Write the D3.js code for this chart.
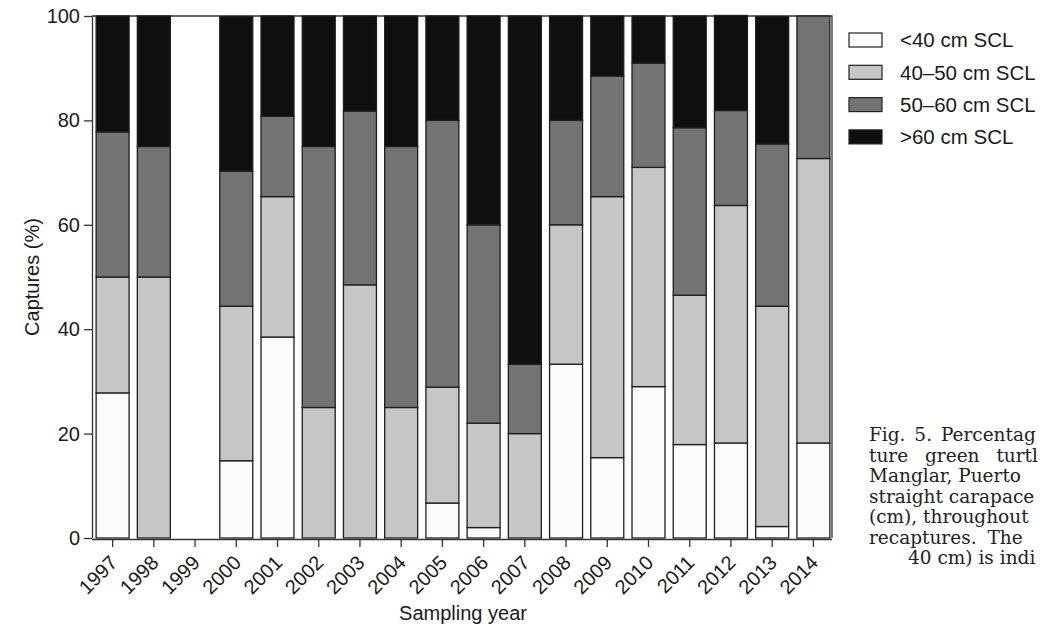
<!DOCTYPE html>
<html>
<head>
<meta charset="utf-8">
<script src="https://cdn.jsdelivr.net/npm/d3@7"></script>
<style>
  body { margin: 0; background: #fff; }
  svg { display: block; }
</style>
</head>
<body>
<script>
// chart data (percent of captures per size class)
var years = ["1997", "1998", "1999", "2000", "2001", "2002", "2003", "2004", "2005",
             "2006", "2007", "2008", "2009", "2010", "2011", "2012", "2013", "2014"];
var lt40  = [27.8, 0, 0, 14.8, 38.5, 0, 0, 0, 6.7, 2.0, 0, 33.3, 15.4, 29.0, 17.9, 18.2, 2.2, 18.2];
var s4050 = [22.2, 50, 0, 29.6, 26.9, 25, 48.5, 25, 22.2, 20.0, 20, 26.7, 50.0, 42.0, 28.6, 45.5, 42.2, 54.5];
var s5060 = [27.8, 25, 0, 25.9, 15.4, 50, 33.3, 50, 51.1, 38.0, 13.3, 20, 23.1, 20.0, 32.1, 18.2, 31.1, 27.3];
var gt60  = [22.2, 25, 0, 29.6, 19.2, 25, 18.2, 25, 20.0, 40.0, 66.7, 20, 11.5, 9.0, 21.4, 18.2, 24.4, 0];
var seriesNames = ["<40 cm SCL", "40\u201350 cm SCL", "50\u201360 cm SCL", ">60 cm SCL"];
var yTicks = [0, 20, 40, 60, 80, 100];
// caption is cut by the right edge of the figure, keep only what shows
var captionLines = ["Fig. 5. Percentag", "ture green turtl", "Manglar, Puerto",
                    "straight carapace", "(cm), throughout", "recaptures. The", "40 cm) is indi"];

window.onload = drawChart();

function drawChart(){
    var width = 1042, height = 641;
    var fills = ["#fbfbfb", "#c6c6c6", "#737373", "#0f0f0f"];
    var font = "'Liberation Sans', Arial, Helvetica, sans-serif";

    var svg = d3.select("body").append("svg")
        .attr("width", width)
        .attr("height", height)
        .style("font-family", font);

    var x = d3.scaleBand()
        .domain(years)
        .range([92, 834])
        .paddingInner(0.2)
        .paddingOuter(0.1);

    var y = d3.scaleLinear()
        .domain([0, 100])
        .range([538, 16]);

    //build rows for the stack
    var rows = years.map(function(yr, i){
        return { year: yr, a: lt40[i], b: s4050[i], c: s5060[i], d: gt60[i] };
    });
    var stack = d3.stack().keys(["a", "b", "c", "d"]);
    var layers = stack(rows);

    //top and right frame lines
    svg.append("path")
        .attr("d", "M92," + y(100) + "H832V" + y(0))
        .attr("fill", "none")
        .attr("stroke", "#333")
        .attr("stroke-width", 1.3);

    svg.selectAll(".layer")
        .data(layers)
        .enter()
        .append("g")
        .attr("class", "layer")
        .attr("fill", function(d, i){ return fills[i]; })
        .selectAll("rect")
        .data(function(d){ return d.filter(function(s){ return s[1] - s[0] > 0; }); })
        .enter()
        .append("rect")
        .attr("x", function(d){ return x(d.data.year); })
        .attr("width", x.bandwidth())
        .attr("y", function(d){ return y(d[1]); })
        .attr("height", function(d){ return y(d[0]) - y(d[1]); })
        .attr("stroke", "#1e1e1e")
        .attr("stroke-width", 1.3);

    //y axis
    var yAxis = svg.append("g")
        .attr("transform", "translate(92,0)")
        .call(d3.axisLeft(y).tickValues(yTicks).tickSize(8).tickPadding(4).tickSizeOuter(0));
    yAxis.selectAll("text")
        .style("font-size", "20px")
        .style("font-family", font)
        .attr("fill", "#1a1a1a");
    yAxis.selectAll("path, line").attr("stroke", "#333").attr("stroke-width", 1.3);

    //x axis
    var xAxis = svg.append("g")
        .attr("transform", "translate(0,539)")
        .call(d3.axisBottom(x).tickSize(8).tickSizeOuter(0));
    xAxis.select(".domain").attr("d", "M92,0.5H832");
    xAxis.selectAll("path, line").attr("stroke", "#333").attr("stroke-width", 1.3);
    xAxis.selectAll("text")
        .style("font-size", "20px")
        .style("font-family", font)
        .attr("fill", "#1a1a1a")
        .attr("text-anchor", "end")
        .attr("y", 0)
        .attr("dy", 0)
        .attr("transform", "translate(6,25) rotate(-45)");

    //axis titles
    svg.append("text")
        .attr("transform", "translate(39,277) rotate(-90)")
        .attr("text-anchor", "middle")
        .style("font-size", "20px")
        .attr("fill", "#1a1a1a")
        .text("Captures (%)");

    svg.append("text")
        .attr("x", 463).attr("y", 620)
        .attr("text-anchor", "middle")
        .style("font-size", "20px")
        .attr("fill", "#1a1a1a")
        .text("Sampling year");

    //legend
    var legend = svg.selectAll(".legend")
        .data(seriesNames)
        .enter()
        .append("g")
        .attr("class", "legend")
        .attr("transform", function(d, i){ return "translate(849," + (33 + i * 32.3) + ")"; });
    legend.append("rect")
        .attr("width", 33).attr("height", 14)
        .attr("fill", function(d, i){ return fills[i]; })
        .attr("stroke", "#222")
        .attr("stroke-width", 1.2);
    legend.append("text")
        .attr("x", 51).attr("y", 7)
        .attr("dy", "0.36em")
        .style("font-size", "20.5px")
        .attr("fill", "#1a1a1a")
        .text(function(d){ return d; });

    //caption fragment at the right edge
    svg.selectAll(".caption")
        .data(captionLines)
        .enter()
        .append("text")
        .attr("class", "caption")
        .attr("x", function(d, i){ return i == 6 ? 908 : 869; })
        .attr("y", function(d, i){ return 441 + i * 20.5; })
        .style("font-family", "'DejaVu Serif', 'Liberation Serif', serif")
        .style("font-size", "18.5px")
        .style("word-spacing", function(d, i){ return i == 0 ? "3px" : (i == 1 ? "11px" : (i == 5 ? "5px" : "0px")); })
        .attr("fill", "#222")
        .text(function(d){ return d; });
}
</script>
</body>
</html>
